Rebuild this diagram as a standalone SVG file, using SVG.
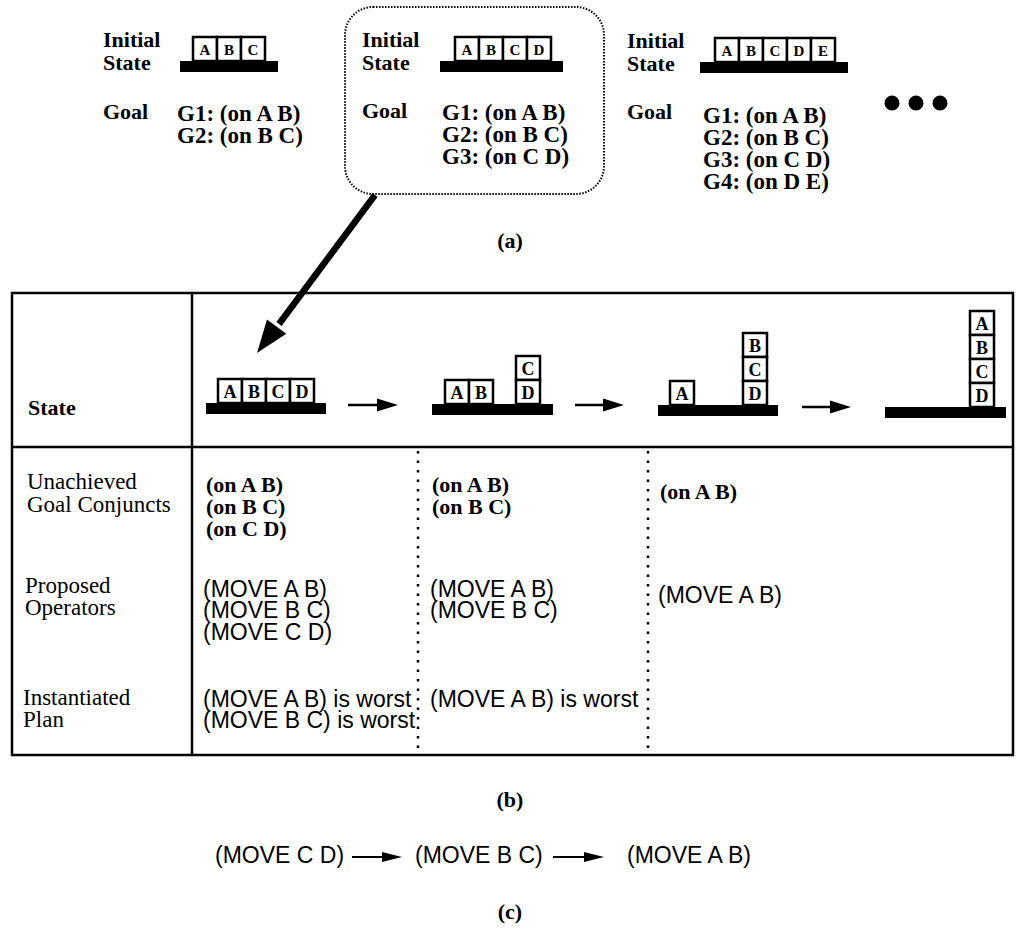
<svg xmlns="http://www.w3.org/2000/svg" width="1018" height="936" viewBox="0 0 1018 936">
<style>
.lb{font-family:"Liberation Serif","Times New Roman",serif;font-weight:bold;font-size:22px;fill:#000}
.rl{font-family:"Liberation Serif","Times New Roman",serif;font-size:23px;fill:#000}
.gl{font-family:"Liberation Serif","Times New Roman",serif;font-weight:bold;font-size:23px;fill:#000}
.on{font-family:"Liberation Serif","Times New Roman",serif;font-weight:bold;font-size:22px;fill:#000}
.mv{font-family:"Liberation Sans",Arial,sans-serif;font-size:23px;fill:#000}
.cap{font-family:"Liberation Serif","Times New Roman",serif;font-weight:bold;font-size:22px;fill:#000;text-anchor:middle}
.blk{fill:#fff;stroke:#000;stroke-width:2.5}
.bar{fill:#000}
.bt{font-family:"Liberation Serif","Times New Roman",serif;font-weight:bold;font-size:15px;fill:#000;text-anchor:middle}
.btl{font-family:"Liberation Serif","Times New Roman",serif;font-weight:bold;font-size:18px;fill:#000;text-anchor:middle}
.tl{stroke:#000;stroke-width:2.5;fill:none}
.dot{stroke:#000;stroke-width:2.5;stroke-dasharray:2.5 7;fill:none}
.arr{stroke:#000;stroke-width:2.5;fill:none}
.arrc{stroke:#000;stroke-width:2;fill:none}
</style>
<defs>
<marker id="ah" markerUnits="userSpaceOnUse" markerWidth="22" markerHeight="14" refX="10" refY="7" orient="auto">
<path d="M0,0.5 L21,7 L0,13.5 z" fill="#000"/>
</marker>
<marker id="ahc" markerUnits="userSpaceOnUse" markerWidth="22" markerHeight="12" refX="10" refY="6" orient="auto">
<path d="M0,1 L20,6 L0,11 z" fill="#000"/>
</marker>
</defs>
<rect x="0" y="0" width="1018" height="936" fill="#fff"/>

<g id="panel-a1">
<text class="lb" x="103" y="47">Initial</text>
<text class="lb" x="103" y="70">State</text>
<rect class="bar" x="180" y="61" width="98" height="11"/>
<rect class="blk" x="193" y="37" width="24" height="24"/><text class="bt" x="205" y="55">A</text>
<rect class="blk" x="217" y="37" width="24" height="24"/><text class="bt" x="229" y="55">B</text>
<rect class="blk" x="241" y="37" width="24" height="24"/><text class="bt" x="253" y="55">C</text>
<text class="lb" x="103" y="119">Goal</text>
<text class="gl" x="177" y="121">G1: (on A B)</text>
<text class="gl" x="177" y="143">G2: (on B C)</text>
</g>

<g id="panel-a2">
<rect x="345" y="7" width="259" height="187" rx="28" ry="28" fill="none" stroke="#000" stroke-width="2" stroke-dasharray="1.5 1.5"/>
<text class="lb" x="362" y="47">Initial</text>
<text class="lb" x="362" y="70">State</text>
<rect class="bar" x="440" y="61" width="123" height="11"/>
<rect class="blk" x="455" y="37" width="24" height="24"/><text class="bt" x="467" y="55">A</text>
<rect class="blk" x="479" y="37" width="24" height="24"/><text class="bt" x="491" y="55">B</text>
<rect class="blk" x="503" y="37" width="24" height="24"/><text class="bt" x="515" y="55">C</text>
<rect class="blk" x="527" y="37" width="24" height="24"/><text class="bt" x="539" y="55">D</text>
<text class="lb" x="362" y="118">Goal</text>
<text class="gl" x="442" y="120">G1: (on A B)</text>
<text class="gl" x="442" y="142">G2: (on B C)</text>
<text class="gl" x="442" y="164">G3: (on C D)</text>
</g>

<g id="panel-a3">
<text class="lb" x="627" y="48">Initial</text>
<text class="lb" x="627" y="71">State</text>
<rect class="bar" x="700" y="62" width="148" height="11"/>
<rect class="blk" x="715" y="38" width="24" height="24"/><text class="bt" x="727" y="56">A</text>
<rect class="blk" x="739" y="38" width="24" height="24"/><text class="bt" x="751" y="56">B</text>
<rect class="blk" x="763" y="38" width="24" height="24"/><text class="bt" x="775" y="56">C</text>
<rect class="blk" x="787" y="38" width="24" height="24"/><text class="bt" x="799" y="56">D</text>
<rect class="blk" x="811" y="38" width="24" height="24"/><text class="bt" x="823" y="56">E</text>
<text class="lb" x="627" y="119">Goal</text>
<text class="gl" x="703" y="123">G1: (on A B)</text>
<text class="gl" x="703" y="145">G2: (on B C)</text>
<text class="gl" x="703" y="167">G3: (on C D)</text>
<text class="gl" x="703" y="189">G4: (on D E)</text>
</g>

<g id="ellipsis">
<circle cx="892" cy="103" r="7.5" fill="#000"/>
<circle cx="916" cy="103" r="7.5" fill="#000"/>
<circle cx="940" cy="103" r="7.5" fill="#000"/>
</g>
<text class="cap" x="510" y="248">(a)</text>

<g id="table">
<rect class="tl" x="12" y="293" width="1001" height="462"/>
<line class="tl" x1="192" y1="293" x2="192" y2="755"/>
<line class="tl" x1="12" y1="447" x2="1013" y2="447"/>
<line class="dot" x1="418" y1="451" x2="418" y2="755"/>
<line class="dot" x1="648" y1="451" x2="648" y2="755"/>
<text class="lb" x="28" y="415">State</text>
<text class="rl" x="27" y="489">Unachieved</text>
<text class="rl" x="27" y="512">Goal Conjuncts</text>
<text class="rl" x="25" y="593">Proposed</text>
<text class="rl" x="25" y="615">Operators</text>
<text class="rl" x="23" y="705">Instantiated</text>
<text class="rl" x="23" y="727">Plan</text>
<text class="on" x="206" y="492">(on A B)</text>
<text class="on" x="206" y="514">(on B C)</text>
<text class="on" x="206" y="536">(on C D)</text>
<text class="mv" x="203" y="597">(MOVE A B)</text>
<text class="mv" x="203" y="618">(MOVE B C)</text>
<text class="mv" x="203" y="640">(MOVE C D)</text>
<text class="mv" x="203" y="707">(MOVE A B) is worst</text>
<text class="mv" x="203" y="728">(MOVE B C) is worst</text>
<text class="on" x="432" y="492">(on A B)</text>
<text class="on" x="432" y="514">(on B C)</text>
<text class="mv" x="430" y="597">(MOVE A B)</text>
<text class="mv" x="430" y="618">(MOVE B C)</text>
<text class="mv" x="430" y="707">(MOVE A B) is worst</text>
<text class="on" x="660" y="499">(on A B)</text>
<text class="mv" x="658" y="603">(MOVE A B)</text>
</g>

<g id="state-1">
<rect class="bar" x="206" y="403" width="120" height="11"/>
<rect class="blk" x="218" y="379" width="24" height="24"/><text class="btl" x="230" y="398">A</text>
<rect class="blk" x="242" y="379" width="24" height="24"/><text class="btl" x="254" y="398">B</text>
<rect class="blk" x="266" y="379" width="24" height="24"/><text class="btl" x="278" y="398">C</text>
<rect class="blk" x="290" y="379" width="24" height="24"/><text class="btl" x="302" y="398">D</text>
</g>
<g id="state-2">
<rect class="bar" x="432" y="404" width="121" height="11"/>
<rect class="blk" x="445" y="380" width="24" height="24"/><text class="btl" x="457" y="399">A</text>
<rect class="blk" x="469" y="380" width="24" height="24"/><text class="btl" x="481" y="399">B</text>
<rect class="blk" x="516" y="356" width="24" height="24"/><text class="btl" x="528" y="375">C</text>
<rect class="blk" x="516" y="380" width="24" height="24"/><text class="btl" x="528" y="399">D</text>
</g>
<g id="state-3">
<rect class="bar" x="658" y="405" width="120" height="11"/>
<rect class="blk" x="670" y="381" width="24" height="24"/><text class="btl" x="682" y="400">A</text>
<rect class="blk" x="743" y="333" width="24" height="24"/><text class="btl" x="755" y="352">B</text>
<rect class="blk" x="743" y="357" width="24" height="24"/><text class="btl" x="755" y="376">C</text>
<rect class="blk" x="743" y="381" width="24" height="24"/><text class="btl" x="755" y="400">D</text>
</g>
<g id="state-4">
<rect class="bar" x="885" y="407" width="121" height="11"/>
<rect class="blk" x="970" y="311" width="24" height="24"/><text class="btl" x="982" y="330">A</text>
<rect class="blk" x="970" y="335" width="24" height="24"/><text class="btl" x="982" y="354">B</text>
<rect class="blk" x="970" y="359" width="24" height="24"/><text class="btl" x="982" y="378">C</text>
<rect class="blk" x="970" y="383" width="24" height="24"/><text class="btl" x="982" y="402">D</text>
</g>
<text class="cap" x="510" y="807">(b)</text>

<g id="plan-1"><text class="mv" x="215" y="863">(MOVE C D)</text></g>
<g id="plan-2"><text class="mv" x="415" y="863">(MOVE B C)</text></g>
<g id="plan-3"><text class="mv" x="627" y="863">(MOVE A B)</text></g>
<text class="cap" x="510" y="919">(c)</text>

<g id="connectors">
<line x1="375" y1="195" x2="279" y2="324" stroke="#000" stroke-width="6.5"/>
<polygon points="257,353 267,319.4 286.3,333.8" fill="#000"/>
<line class="arr" x1="348" y1="405" x2="387" y2="405" marker-end="url(#ah)"/>
<line class="arr" x1="575" y1="405" x2="613" y2="405" marker-end="url(#ah)"/>
<line class="arr" x1="802" y1="407" x2="840" y2="407" marker-end="url(#ah)"/>
<line class="arrc" x1="352" y1="857" x2="392" y2="857" marker-end="url(#ahc)"/>
<line class="arrc" x1="553" y1="857" x2="594" y2="857" marker-end="url(#ahc)"/>
</g>
</svg>
